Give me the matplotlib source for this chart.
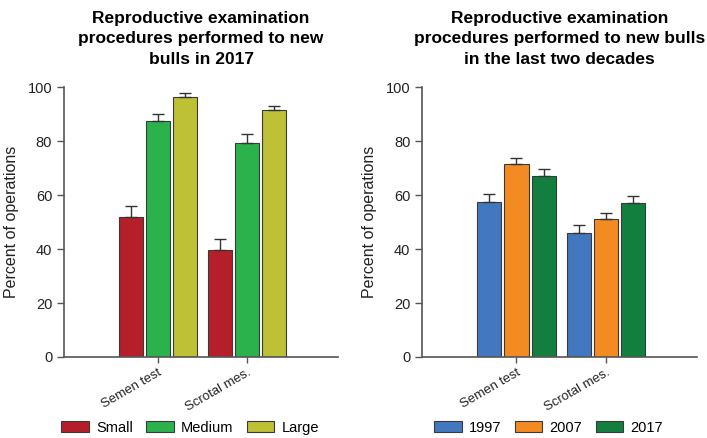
import matplotlib
matplotlib.use("Agg")
import matplotlib.pyplot as plt
import numpy as np
from matplotlib.patches import Patch

plt.rcParams['font.family'] = ['Liberation Sans', 'DejaVu Sans']

categories = ["Semen test", "Scrotal mes."]

left_series = ["Small", "Medium", "Large"]
left_values = [[51.8, 39.7], [87.3, 79.3], [96.5, 91.5]]
left_err = [[4.0, 4.0], [2.8, 3.2], [1.2, 1.7]]
left_colors = ["#B51F29", "#2BB24C", "#BEC035"]

right_series = ["1997", "2007", "2017"]
right_values = [[57.5, 46.0], [71.5, 51.0], [67.0, 57.0]]
right_err = [[3.0, 3.0], [2.2, 2.3], [2.6, 2.8]]
right_colors = ["#4377BF", "#F48A22", "#127F3F"]

left_title = "Reproductive examination\nprocedures performed to new\nbulls in 2017"
right_title = "Reproductive examination\nprocedures performed to new bulls\nin the last two decades"

fig = plt.figure(figsize=(7.07, 4.38), dpi=100)
axL = fig.add_axes([0.0905, 0.185, 0.3876, 0.616])
axR = fig.add_axes([0.597, 0.185, 0.389, 0.616])

axis_col = "#555555"
text_col = "#222222"

def draw(ax, series, values, errs, colors, title):
    x = np.arange(len(categories))
    width = 0.27
    step = 0.303
    for i, (name, vals, er, col) in enumerate(zip(series, values, errs, colors)):
        pos = x + (i - 1) * step
        ax.bar(pos, vals, width, color=col, edgecolor="#3a3a3a", linewidth=0.8,
               yerr=[np.zeros(len(er)), er], capsize=4,
               error_kw=dict(ecolor="#333333", elinewidth=1.0, capthick=1.0),
               label=name, zorder=2)
    ax.set_xlim(-1.056, 2.02)
    ax.set_ylim(0, 100)
    ax.set_yticks([0, 20, 40, 60, 80, 100])
    ax.set_xticks(x)
    ax.set_xticklabels(categories, rotation=30, ha="right", rotation_mode="anchor",
                       fontsize=9.5)
    ax.tick_params(axis='y', labelsize=10.5, color=axis_col, labelcolor=text_col,
                   length=5, width=1)
    ax.tick_params(axis='x', color=axis_col, labelcolor=text_col, length=4, width=1, pad=3)
    for s in ["top", "right"]:
        ax.spines[s].set_visible(False)
    for s in ["left", "bottom"]:
        ax.spines[s].set_color(axis_col)
        ax.spines[s].set_linewidth(1.2)
    ax.set_ylabel("Percent of operations", fontsize=11.5, color=text_col, labelpad=6)
    ax.set_title(title, fontsize=12.5, fontweight="bold", pad=17, linespacing=1.45)
    handles = [Patch(facecolor=c, edgecolor="#3a3a3a", linewidth=0.8) for c in colors]
    ax.legend(handles, series, loc="center", bbox_to_anchor=(0.46, -0.262),
              ncol=3, frameon=False, fontsize=10.5, handlelength=1.9,
              handleheight=0.7, columnspacing=0.9, handletextpad=0.5,
              borderpad=0.2)

draw(axL, left_series, left_values, left_err, left_colors, left_title)
draw(axR, right_series, right_values, right_err, right_colors, right_title)

fig.savefig("out.png", dpi=100)
